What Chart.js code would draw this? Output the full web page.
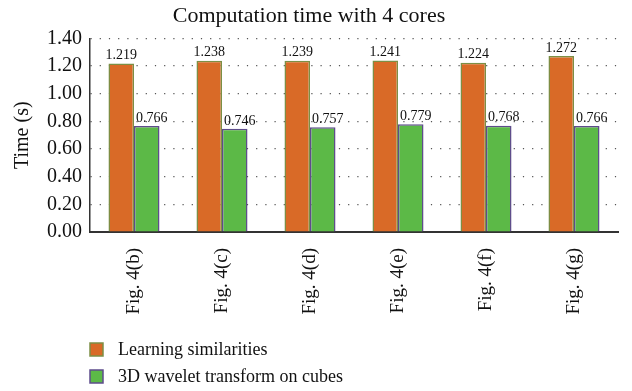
<!DOCTYPE html>
<html>
<head>
<meta charset="utf-8">
<script src="https://cdn.jsdelivr.net/npm/chart.js@4/dist/chart.umd.min.js"></script>
<style>
  html, body { margin: 0; padding: 0; background: #fff; }
  #wrap { width: 632px; height: 391px; }
</style>
</head>
<body>
<div id="wrap"><canvas id="timeChart"></canvas></div>
<script>
const categories = ['Fig. 4(b)', 'Fig. 4(c)', 'Fig. 4(d)', 'Fig. 4(e)', 'Fig. 4(f)', 'Fig. 4(g)'];
const learningTimes = [1.219, 1.238, 1.239, 1.241, 1.224, 1.272];
const waveletTimes = [0.766, 0.746, 0.757, 0.779, 0.768, 0.766];
const seriesNames = ['Learning similarities', '3D wavelet transform on cubes'];

const SERIF = '"Liberation Serif", "DejaVu Serif", serif';

// value labels above each bar
const barLabels = {
    id: 'barLabels',
    afterDatasetsDraw(chart) {
        const ctx = chart.ctx;
        ctx.save();
        ctx.font = '14px ' + SERIF;
        ctx.fillStyle = '#111';
        ctx.textAlign = 'center';
        ctx.textBaseline = 'bottom';
        chart.data.datasets.forEach((ds, i) => {
            const meta = chart.getDatasetMeta(i);
            const dx = i === 0 ? 0 : 5;
            meta.data.forEach((bar, j) => {
                ctx.fillText(ds.data[j].toFixed(3), bar.x + dx, bar.y - 1);
            });
        });
        ctx.restore();
    }
};

// vertical legend, bottom left
const stackedLegend = {
    id: 'stackedLegend',
    afterDraw(chart) {
        const ctx = chart.ctx;
        ctx.save();
        ctx.font = '18px ' + SERIF;
        ctx.textBaseline = 'middle';
        ctx.textAlign = 'left';
        chart.data.datasets.forEach((ds, i) => {
            const cy = 350 + i * 27;
            ctx.fillStyle = ds.backgroundColor;
            ctx.fillRect(90, cy - 7, 13, 13);
            ctx.strokeStyle = ds.borderColor;
            ctx.lineWidth = 1.5;
            ctx.strokeRect(90, cy - 7, 13, 13);
            ctx.fillStyle = '#111';
            ctx.fillText(ds.label, 118, cy);
        });
        ctx.restore();
    }
};

new Chart(document.getElementById('timeChart'), {
    type: 'bar',
    data: {
        labels: categories,
        datasets: [{
            label: seriesNames[0],
            data: learningTimes,
            backgroundColor: '#D96A27',
            borderColor: '#7C8F45',
            borderWidth: 1.5,
            categoryPercentage: 0.58,
            barPercentage: 1.0
        }, {
            label: seriesNames[1],
            data: waveletTimes,
            backgroundColor: '#5CB947',
            borderColor: '#5E4C8C',
            borderWidth: 1.5,
            categoryPercentage: 0.58,
            barPercentage: 1.0
        }]
    },
    options: {
        responsive: true,
        maintainAspectRatio: false,
        animation: false,
        layout: { padding: { left: 0, right: 14, top: 0, bottom: 66 } },
        plugins: {
            legend: { display: false },
            tooltip: { enabled: false },
            title: {
                display: true,
                text: 'Computation time with 4 cores',
                color: '#111',
                font: { family: SERIF, size: 22, weight: 'normal' },
                padding: { top: 3, bottom: 9 }
            }
        },
        scales: {
            x: {
                grid: { display: false },
                border: { display: true, color: '#333', width: 2 },
                ticks: {
                    color: '#111',
                    font: { family: SERIF, size: 19 },
                    minRotation: 90,
                    maxRotation: 90,
                    padding: 8
                },
                afterFit(scale) { scale.height = 93; }
            },
            y: {
                min: 0,
                max: 1.4,
                ticks: {
                    stepSize: 0.2,
                    color: '#111',
                    font: { family: SERIF, size: 20 },
                    padding: 8,
                    callback: v => v.toFixed(2)
                },
                grid: {
                    color: '#555',
                    lineWidth: 1.2,
                    drawTicks: false,
                    borderDash: [1.2, 8]
                },
                border: { display: true, color: '#333', width: 1.5, dash: [1.2, 8] },
                title: {
                    display: true,
                    text: 'Time (s)',
                    color: '#111',
                    font: { family: SERIF, size: 20 },
                    padding: { top: 11, bottom: 0 }
                },
                afterFit(scale) { scale.width = 90; }
            }
        }
    },
    plugins: [barLabels, stackedLegend]
});
</script>
</body>
</html>
